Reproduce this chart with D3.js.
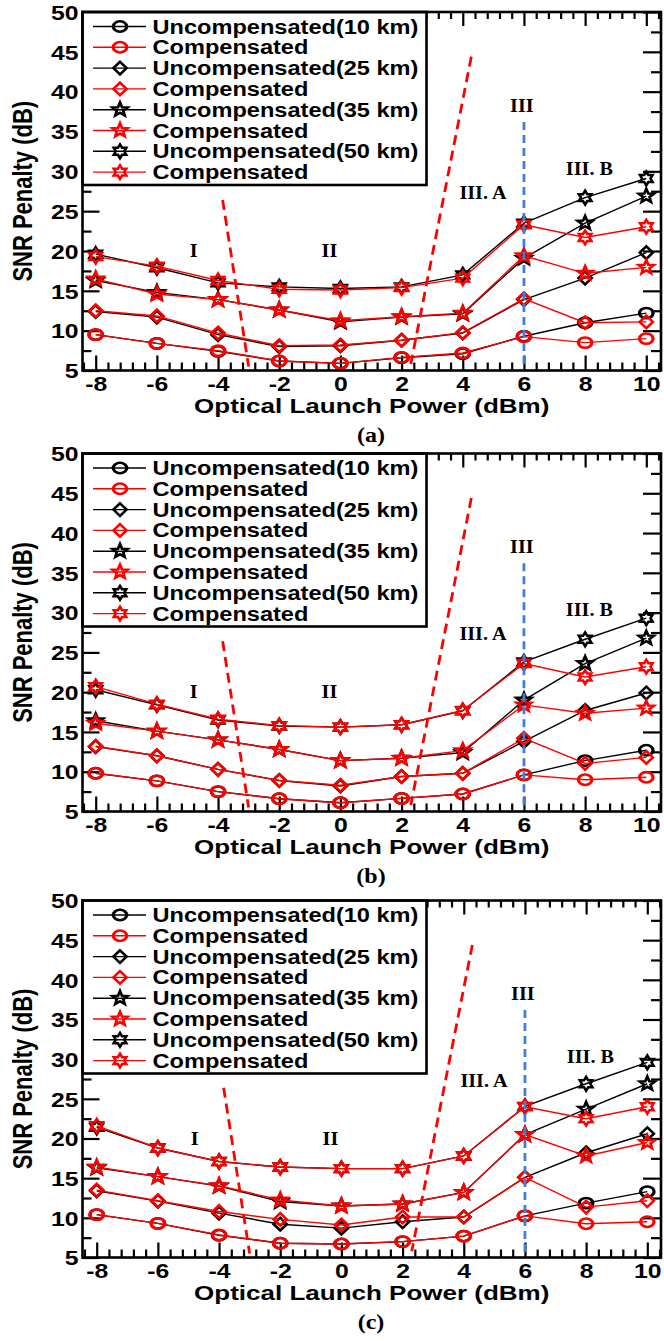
<!DOCTYPE html>
<html>
<head>
<meta charset="utf-8">
<script src="https://cdn.jsdelivr.net/npm/d3@7"></script>
<style>
  html, body { margin: 0; padding: 0; background: #fff; }
  svg { display: block; }
</style>
</head>
<body>
<svg id="chart" width="664" height="1341"></svg>
<script>
// ---- data ----------------------------------------------------------------
const launchPower = [-8, -6, -4, -2, 0, 2, 4, 6, 8, 10];
const xTickValues = [-8, -6, -4, -2, 0, 2, 4, 6, 8, 10];
const yTickValues = [5, 10, 15, 20, 25, 30, 35, 40, 45, 50];
const seriesNames = [
  "Uncompensated(10 km)", "Compensated",
  "Uncompensated(25 km)", "Compensated",
  "Uncompensated(35 km)", "Compensated",
  "Uncompensated(50 km)", "Compensated"
];
const panelLabels = ["(a)", "(b)", "(c)"];
const xTitle = "Optical Launch Power (dBm)";
const yTitle = "SNR Penalty (dB)";

// panel (a)
const unc10a  = [9.5, 8.4, 7.4, 6.2, 5.9, 6.6, 7.1, 9.3, 11.0, 12.2];
const comp10a = [9.5, 8.4, 7.5, 6.2, 5.9, 6.65, 7.2, 9.25, 8.5, 9.0];
const unc25a  = [12.4, 11.7, 9.5, 8.0, 8.1, 8.8, 9.7, 13.9, 16.6, 19.8];
const comp25a = [12.5, 11.85, 9.7, 8.1, 8.2, 8.8, 9.75, 14.0, 11.0, 11.1];
const unc35a  = [16.3, 14.8, 13.9, 12.6, 11.1, 11.7, 12.1, 19.1, 23.5, 26.9];
const comp35a = [16.5, 14.6, 13.9, 12.6, 11.25, 11.75, 12.2, 19.4, 17.2, 17.95];
const unc50a  = [19.6, 17.9, 16.0, 15.5, 15.3, 15.5, 17.0, 23.5, 26.7, 29.1];
const comp50a = [19.3, 18.1, 16.3, 15.2, 15.1, 15.4, 16.6, 23.3, 21.7, 23.05];

// panel (b)
const unc10b  = [9.8, 8.85, 7.5, 6.6, 6.1, 6.65, 7.2, 9.6, 11.4, 12.7];
const comp10b = [9.8, 8.85, 7.5, 6.6, 6.1, 6.65, 7.2, 9.6, 9.0, 9.3];
const unc25b  = [13.15, 12.0, 10.3, 8.9, 8.2, 9.4, 9.8, 13.8, 17.7, 19.9];
const comp25b = [13.2, 12.0, 10.3, 8.9, 8.3, 9.4, 9.8, 14.2, 11.05, 11.8];
const unc35b  = [16.4, 15.1, 14.0, 12.8, 11.4, 11.7, 12.4, 19.0, 23.6, 26.8];
const comp35b = [16.1, 15.1, 14.0, 12.8, 11.4, 11.7, 12.65, 18.4, 17.35, 18.0];
const unc50b  = [20.3, 18.4, 16.5, 15.75, 15.6, 15.9, 17.65, 23.8, 26.65, 29.3];
const comp50b = [20.7, 18.5, 16.6, 15.8, 15.6, 15.9, 17.7, 23.6, 21.9, 23.2];

// panel (c)
const unc10c  = [10.4, 9.3, 7.8, 6.8, 6.7, 7.0, 7.7, 10.25, 11.85, 13.3];
const comp10c = [10.4, 9.3, 7.85, 6.8, 6.7, 7.0, 7.7, 10.25, 9.25, 9.5];
const unc25c  = [13.4, 12.1, 10.6, 9.2, 8.7, 9.5, 10.1, 15.1, 18.2, 20.6];
const comp25c = [13.5, 12.15, 10.8, 9.8, 9.1, 10.1, 10.1, 15.1, 11.35, 12.15];
const unc35c  = [16.3, 15.2, 14.0, 12.05, 11.5, 11.75, 13.2, 20.5, 23.7, 26.9];
const comp35c = [16.4, 15.2, 14.05, 12.25, 11.5, 11.75, 13.2, 20.5, 17.8, 19.5];
const unc50c  = [21.4, 18.8, 17.1, 16.4, 16.2, 16.2, 17.8, 24.05, 26.9, 29.6];
const comp50c = [21.6, 18.8, 17.1, 16.4, 16.2, 16.2, 17.8, 24.0, 22.5, 24.0];

// operating regions: text and anchor (dBm, dB)
const regionText = ["I", "II", "III. A", "III", "III. B"];
const regionX = [-4.8, -0.36, 4.66, 5.93, 8.14];
const regionY = [20.0, 20.0, 27.3, 38.2, 30.3];
// region boundaries (dBm, dB)
const boundaryLow  = [[-3.85, 26.4], [-3.0, 5.5]];
const boundaryHigh = [[4.28, 44.4], [2.3, 5.8]];
const boundaryIII  = [[6, 36.2], [6, 5]];

// ---- layout & style --------------------------------------------------------
const FRAME_L = 82.5, FRAME_R = 661;
const X_AT_MIN = 95.7, X_AT_MAX = 646.3;
const LEGEND_R = 426.5, LEGEND_H = 173;
const panelBoxes = [
  { top: 12,    bottom: 370.5,  dx: 0 },
  { top: 453.5, bottom: 811.5,  dx: 0 },
  { top: 900.5, bottom: 1257.5, dx: 1 }
];
const SANS = "'Liberation Sans', Arial, sans-serif";
const SERIF = "'Liberation Serif', 'Times New Roman', serif";
const STRETCH = 1.24;
const RED = "#ff0000", BLACK = "#000000", BLUE = "#3d7fd9";

const seriesStyle = [
  { color: BLACK, shape: "circle" },   { color: RED, shape: "circle" },
  { color: BLACK, shape: "diamond" },  { color: RED, shape: "diamond" },
  { color: BLACK, shape: "star5" },    { color: RED, shape: "star5" },
  { color: BLACK, shape: "star6" },    { color: RED, shape: "star6" }
];

const panels = [
  { label: panelLabels[0], series: [unc10a, comp10a, unc25a, comp25a, unc35a, comp35a, unc50a, comp50a] },
  { label: panelLabels[1], series: [unc10b, comp10b, unc25b, comp25b, unc35b, comp35b, unc50b, comp50b] },
  { label: panelLabels[2], series: [unc10c, comp10c, unc25c, comp25c, unc35c, comp35c, unc50c, comp50c] }
];

// ---- marker shapes --------------------------------------------------------
function starPath(n, R, r) {
  const pts = [];
  for (let i = 0; i < 2 * n; i++) {
    const a = -Math.PI / 2 + i * Math.PI / n;
    const rad = i % 2 === 0 ? R : r;
    pts.push([rad * Math.cos(a), rad * Math.sin(a)]);
  }
  return "M" + pts.map(p => p[0].toFixed(2) + "," + p[1].toFixed(2)).join("L") + "Z";
}
const circlePath = d3.path();
circlePath.arc(0, 0, 5.2, 0, 2 * Math.PI);
const shapePaths = {
  circle: circlePath.toString(),
  diamond: "M0,-6.3L6.3,0L0,6.3L-6.3,0Z",
  star5: starPath(5, 7.2, 3.1),
  star6: starPath(6, 6.9, 4.0)
};
const shapeStretch = { circle: 1.3, diamond: 1.05, star5: 1.1, star6: 1.05 };

function drawMarker(sel, cx, cy, style) {
  sel.append("path")
    .attr("d", shapePaths[style.shape])
    .attr("transform", `translate(${cx},${cy}) scale(${shapeStretch[style.shape]},1)`)
    .attr("fill", "none")
    .attr("stroke", style.color)
    .attr("stroke-width", 2.5)
    .attr("stroke-linejoin", "miter");
}

function stretchedText(sel, x, y, str, opts) {
  return sel.append("text")
    .attr("transform", `translate(${x},${y}) scale(${opts.sx || STRETCH},1)`)
    .attr("text-anchor", opts.anchor || "start")
    .attr("dy", opts.dy || 0)
    .attr("font-family", opts.family || SANS)
    .attr("font-weight", "bold")
    .attr("font-size", opts.size)
    .attr("fill", "#000")
    .text(str);
}

// ---- drawing ---------------------------------------------------------------
const svg = d3.select("#chart");
svg.append("rect").attr("width", 664).attr("height", 1341).attr("fill", "#fff");

const minorX = d3.range(-8.4, 10.41, 0.4).map(v => +v.toFixed(2))
  .filter(v => Math.abs(v / 2 - Math.round(v / 2)) > 1e-6);
const minorY = d3.range(7.5, 50, 5);

panels.forEach((panel, pi) => {
  const box = panelBoxes[pi];
  const g = svg.append("g");
  const x = d3.scaleLinear().domain([-8, 10]).range([X_AT_MIN + box.dx, X_AT_MAX + box.dx]);
  const y = d3.scaleLinear().domain([5, 50]).range([box.bottom, box.top]);

  const tickStyle = s => {
    s.select(".domain").remove();
    s.selectAll(".tick line").attr("stroke", "#000").attr("stroke-width", 2.2);
  };

  // x axis (bottom) with labels
  const xb = g.append("g").attr("transform", `translate(0,${box.bottom})`)
    .call(d3.axisBottom(x).tickValues(xTickValues).tickSize(-15).tickFormat(d => String(d)))
    .call(tickStyle);
  xb.selectAll(".tick text")
    .attr("y", 0).attr("dy", 0)
    .attr("transform", `translate(0,20) scale(${STRETCH},1)`)
    .attr("font-family", SANS).attr("font-weight", "bold").attr("font-size", 20).attr("fill", "#000");
  g.append("g").attr("transform", `translate(0,${box.bottom})`)
    .call(d3.axisBottom(x).tickValues(minorX).tickSize(-8).tickFormat(""))
    .call(tickStyle);
  // x axis (top)
  g.append("g").attr("transform", `translate(0,${box.top})`)
    .call(d3.axisTop(x).tickValues(xTickValues).tickSize(-14).tickFormat(""))
    .call(tickStyle);
  g.append("g").attr("transform", `translate(0,${box.top})`)
    .call(d3.axisTop(x).tickValues(minorX).tickSize(-7).tickFormat(""))
    .call(tickStyle);

  // y axis (left) with labels
  const yl = g.append("g").attr("transform", `translate(${FRAME_L},0)`)
    .call(d3.axisLeft(y).tickValues(yTickValues).tickSize(-17).tickFormat(d => String(d)))
    .call(tickStyle);
  yl.selectAll(".tick text")
    .attr("x", 0).attr("dy", "0.36em")
    .attr("transform", `translate(-4,0) scale(${STRETCH},1)`)
    .attr("text-anchor", "end")
    .attr("font-family", SANS).attr("font-weight", "bold").attr("font-size", 20).attr("fill", "#000");
  g.append("g").attr("transform", `translate(${FRAME_L},0)`)
    .call(d3.axisLeft(y).tickValues(minorY).tickSize(-9).tickFormat(""))
    .call(tickStyle);
  // y axis (right)
  g.append("g").attr("transform", `translate(${FRAME_R},0)`)
    .call(d3.axisRight(y).tickValues(yTickValues).tickSize(-18).tickFormat(""))
    .call(tickStyle);
  g.append("g").attr("transform", `translate(${FRAME_R},0)`)
    .call(d3.axisRight(y).tickValues(minorY).tickSize(-10).tickFormat(""))
    .call(tickStyle);

  // series lines and markers
  const line = d3.line().x((d, i) => x(launchPower[i])).y(d => y(d));
  panel.series.forEach((vals, si) => {
    const st = seriesStyle[si];
    g.append("path").attr("d", line(vals))
      .attr("fill", "none").attr("stroke", st.color).attr("stroke-width", 1.4);
    const mg = g.append("g");
    vals.forEach((v, i) => drawMarker(mg, x(launchPower[i]), y(v), st));
  });

  // region boundaries
  const bl = d3.line().x(d => x(d[0])).y(d => y(d[1]));
  g.append("path").attr("d", bl(boundaryLow)).attr("fill", "none")
    .attr("stroke", RED).attr("stroke-width", 2.8).attr("stroke-dasharray", "10,6");
  g.append("path").attr("d", bl(boundaryHigh)).attr("fill", "none")
    .attr("stroke", RED).attr("stroke-width", 2.8).attr("stroke-dasharray", "10,6");
  g.append("path").attr("d", bl(boundaryIII)).attr("fill", "none")
    .attr("stroke", BLUE).attr("stroke-width", 2.8).attr("stroke-dasharray", "8,5");

  // region names
  regionText.forEach((t, i) => {
    stretchedText(g, x(regionX[i]), y(regionY[i]), t,
      { anchor: "middle", dy: "0.34em", family: SERIF, size: 18, sx: 1.12 });
  });

  // legend
  const lg = g.append("g");
  lg.append("rect")
    .attr("x", FRAME_L).attr("y", box.top)
    .attr("width", LEGEND_R - FRAME_L).attr("height", LEGEND_H)
    .attr("fill", "#fff").attr("stroke", "#000").attr("stroke-width", 2.6);
  seriesNames.forEach((name, si) => {
    const st = seriesStyle[si];
    const ry = box.top + 14.5 + si * 20.8;
    lg.append("line").attr("x1", 93).attr("x2", 146).attr("y1", ry).attr("y2", ry)
      .attr("stroke", st.color).attr("stroke-width", 1.4);
    drawMarker(lg, 120, ry, st);
    stretchedText(lg, 152.5, ry, name, { dy: "0.36em", size: 19.5, sx: 1.21 });
  });

  // frame
  g.append("rect")
    .attr("x", FRAME_L).attr("y", box.top)
    .attr("width", FRAME_R - FRAME_L).attr("height", box.bottom - box.top)
    .attr("fill", "none").attr("stroke", "#000").attr("stroke-width", 2.6);

  // titles
  stretchedText(g, (FRAME_L + FRAME_R) / 2, box.bottom + 42.5, xTitle,
    { anchor: "middle", size: 20, sx: 1.3 });
  g.append("text")
    .attr("transform", `translate(22,${(box.top + box.bottom) / 2}) rotate(-90) scale(1,1.27)`)
    .attr("text-anchor", "middle").attr("dy", "0.36em")
    .attr("font-family", SANS).attr("font-weight", "bold").attr("font-size", 22)
    .attr("fill", "#000").text(yTitle);

  // panel caption
  stretchedText(g, 371, box.bottom + 71, panel.label,
    { anchor: "middle", family: SERIF, size: 20, sx: 1.2 });
});
</script>
</body>
</html>
